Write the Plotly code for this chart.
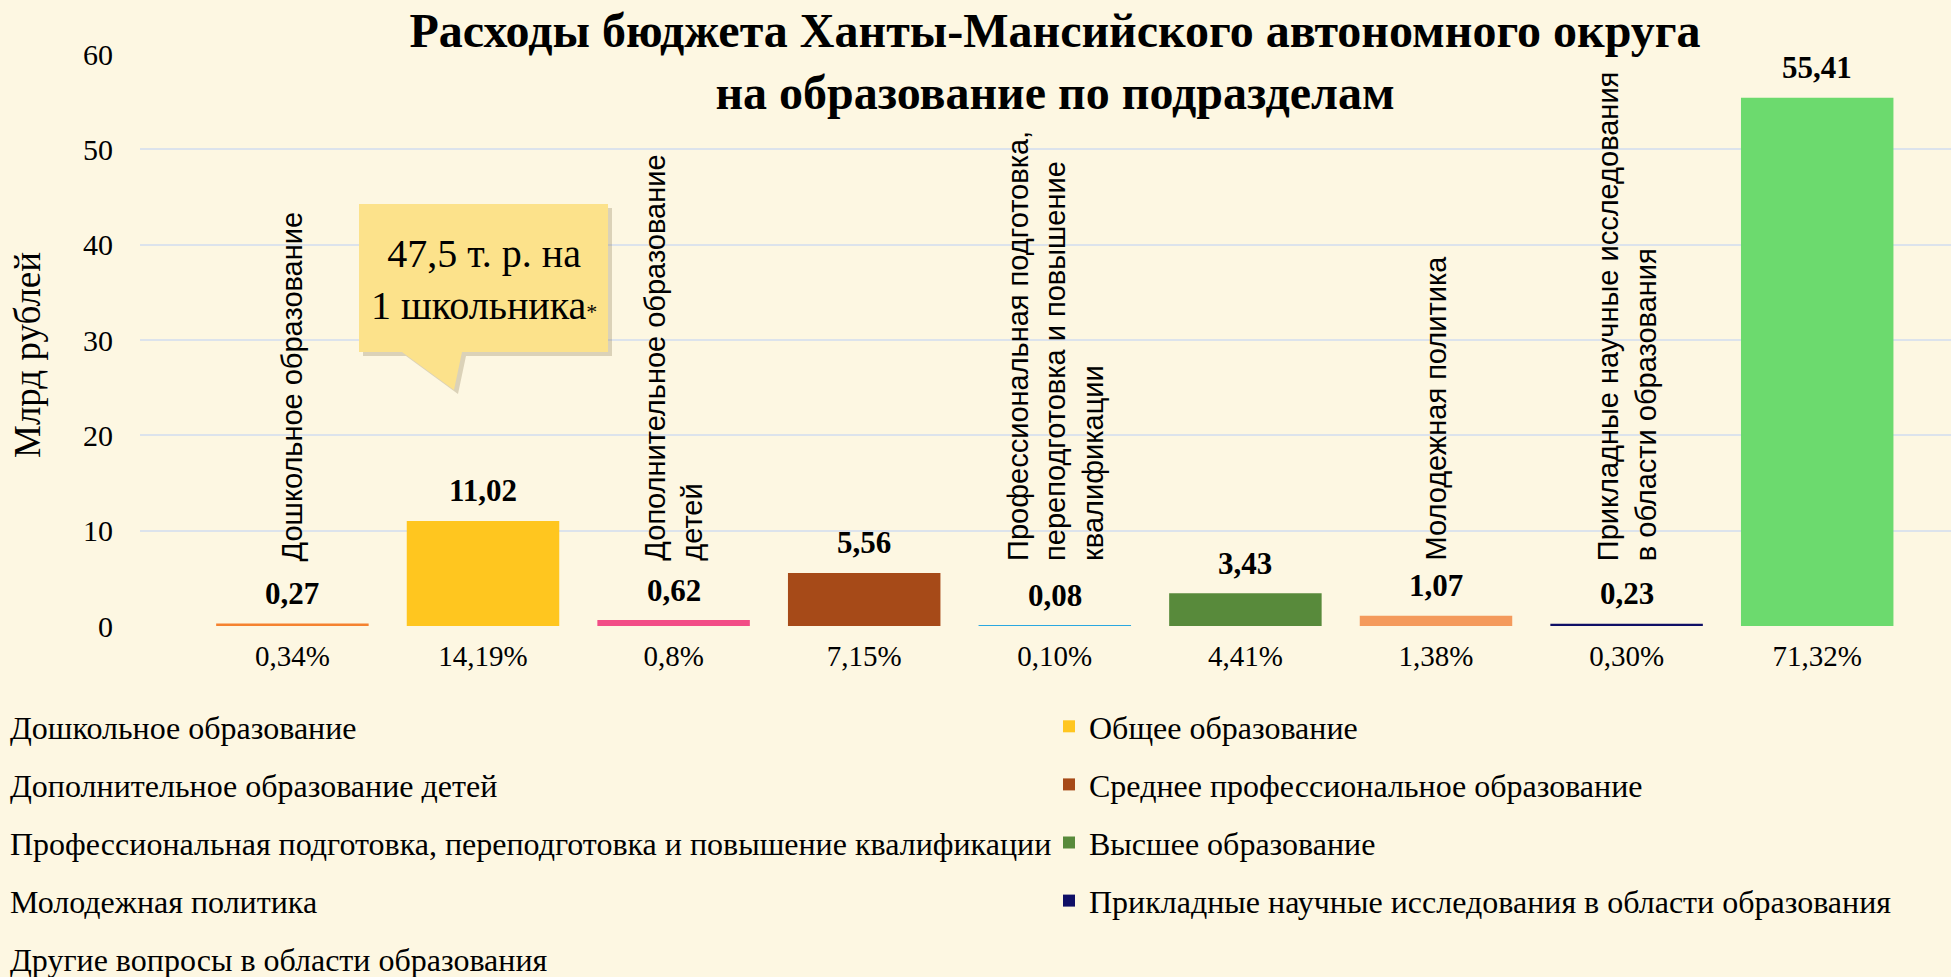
import plotly.graph_objects as go

categories = [
    "Дошкольное образование",
    "Общее образование",
    "Дополнительное образование детей",
    "Среднее профессиональное образование",
    "Профессиональная подготовка, переподготовка и повышение квалификации",
    "Высшее образование",
    "Молодежная политика",
    "Прикладные научные исследования в области образования",
    "Другие вопросы в области образования",
]
values = [0.27, 11.02, 0.62, 5.56, 0.08, 3.43, 1.07, 0.23, 55.41]
value_labels = ["0,27", "11,02", "0,62", "5,56", "0,08", "3,43", "1,07", "0,23", "55,41"]
percent_labels = ["0,34%", "14,19%", "0,8%", "7,15%", "0,10%", "4,41%", "1,38%", "0,30%", "71,32%"]
bar_labels = {
    0: "Дошкольное образование",
    2: "Дополнительное образование<br>детей",
    4: "Профессиональная подготовка,<br>переподготовка и повышение<br>квалификации",
    6: "Молодежная политика",
    7: "Прикладные научные исследования<br>в области образования",
}
colors = ["#F5822F", "#FFC61F", "#F24D86", "#A64A18", "#2AA8E0",
          "#588A3B", "#F49A5C", "#0F0F66", "#6CDA6E"]
y_ticks = [0, 10, 20, 30, 40, 50, 60]
callout_text = "47,5 т. р. на<br>1 школьника<span style='font-size:22px'>*</span>"

W, H = 1951, 977
L, R, T, B = 140, 0, 54, 351
PW, PH = W - L - R, H - T - B

def px(x):
    return (x - L) / PW

def py(y):
    return (H - B - y) / PH

BG = "#FDF7E2"
SERIF = "Liberation Serif"
SANS = "Liberation Sans"

fig = go.Figure()
for i, cat in enumerate(categories):
    fig.add_trace(go.Bar(
        x=[i], y=[values[i]], name=cat, width=0.8,
        marker=dict(color=colors[i], line=dict(width=0)),
        legend="legend" if i % 2 == 0 else "legend2",
        legendgroup=f"g{i}",
        hoverinfo="name+y",
    ))

annotations = []
for i, v in enumerate(values):
    annotations.append(dict(
        x=i, y=v, xref="x", yref="y", text=f"<b>{value_labels[i]}</b>",
        showarrow=False, yanchor="middle", yshift=30,
        font=dict(family=SERIF, size=31, color="#000000"),
    ))
for i, txt in bar_labels.items():
    annotations.append(dict(
        x=i, y=6.6, xref="x", yref="y", text=txt, textangle=-90,
        showarrow=False, yanchor="bottom", xanchor="center", align="left",
        font=dict(family=SANS, size=29, color="#000000"),
    ))
annotations.append(dict(
    x=px(27), y=py(355), xref="paper", yref="paper", text="Млрд рублей",
    textangle=-90, showarrow=False, xanchor="center", yanchor="middle",
    font=dict(family=SERIF, size=37, color="#000000"),
))
annotations.append(dict(
    x=px(483.5), y=py(279), xref="paper", yref="paper", text=callout_text,
    showarrow=False, xanchor="center", yanchor="middle", align="center",
    font=dict(family=SERIF, size=40, color="#000000"),
))

def path(points):
    s = "M " + " L ".join(f"{px(a):.5f},{py(b):.5f}" for a, b in points) + " Z"
    return s

callout = [(359, 204), (608, 204), (608, 352), (462, 352), (454, 390), (402, 352), (359, 352)]
shadow = [(a + 4, b + 4) for a, b in callout]
shapes = [
    dict(type="path", xref="paper", yref="paper", path=path(shadow),
         fillcolor="rgba(120,100,60,0.25)", line=dict(width=0), layer="above"),
    dict(type="path", xref="paper", yref="paper", path=path(callout),
         fillcolor="#FCE28B", line=dict(width=0), layer="above"),
]

fig.update_layout(
    width=W, height=H,
    margin=dict(l=L, r=R, t=T, b=B, autoexpand=False),
    paper_bgcolor=BG, plot_bgcolor=BG,
    title=dict(
        text="<b>Расходы бюджета Ханты-Мансийского автономного округа<br>на образование по подразделам</b>",
        x=1055 / W, xref="container", xanchor="center",
        y=1 - 47 / H, yref="container", yanchor="middle",
        font=dict(family=SERIF, size=48, color="#000000"),
    ),
    bargap=0.2,
    showlegend=True,
    legend=dict(
        x=px(-30), y=py(699), xref="paper", yref="paper", xanchor="left", yanchor="top",
        orientation="v", traceorder="grouped", tracegroupgap=13.5,
        font=dict(family=SERIF, size=32, color="#000000"), bgcolor="rgba(0,0,0,0)",
    ),
    legend2=dict(
        x=px(1049), y=py(699), xref="paper", yref="paper", xanchor="left", yanchor="top",
        orientation="v", traceorder="grouped", tracegroupgap=13.5,
        font=dict(family=SERIF, size=32, color="#000000"), bgcolor="rgba(0,0,0,0)",
    ),
    xaxis=dict(
        range=[-0.7996, 8.702], tickvals=list(range(len(categories))), ticktext=percent_labels,
        showgrid=False, zeroline=False, showline=False, ticks="",
        tickfont=dict(family=SERIF, size=29, color="#000000"), ticklabelstandoff=10,
    ),
    yaxis=dict(
        range=[0, 60], tickvals=y_ticks, showgrid=True, gridcolor="#DCE3EC", gridwidth=2,
        zeroline=False, showline=False, ticks="",
        tickfont=dict(family=SERIF, size=30, color="#000000"), ticklabelstandoff=26,
    ),
    annotations=annotations,
    shapes=shapes,
)

fig.write_html("out.html")
